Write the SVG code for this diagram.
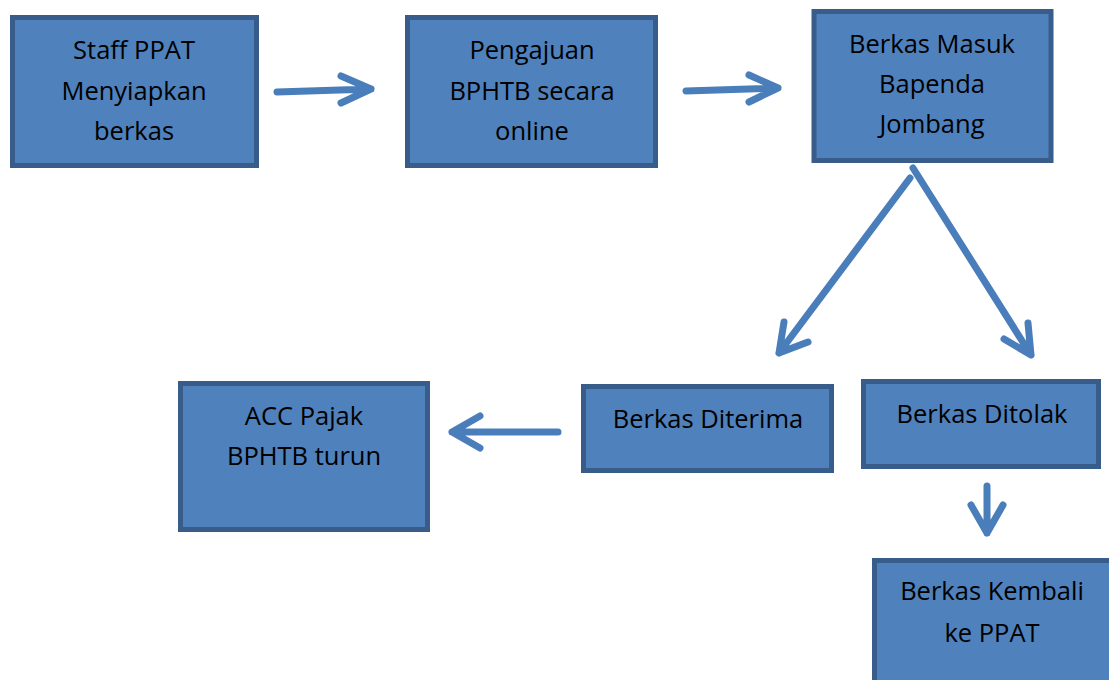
<svg xmlns="http://www.w3.org/2000/svg" width="1109" height="680" viewBox="0 0 1109 680">
<style>
.box{fill:#4f81bd;stroke:#385d8a;stroke-width:5}
.t{font-family:"Open Sans","Liberation Sans",sans-serif;font-size:25.5px;fill:#000;text-anchor:middle}
.c{fill:none;stroke:#4a7ebb;stroke-width:7;stroke-linecap:round;stroke-linejoin:round}
</style>
<rect width="1109" height="680" fill="#fff"/>
<g id="n1"><rect class="box" x="12.5" y="17.5" width="244" height="148"/>
<text class="t" x="134" y="59">Staff PPAT</text><text class="t" x="134" y="100">Menyiapkan</text><text class="t" x="134" y="140">berkas</text></g>
<g id="n2"><rect class="box" x="407.5" y="17.5" width="248" height="148"/>
<text class="t" x="532" y="59">Pengajuan</text><text class="t" x="532" y="100">BPHTB secara</text><text class="t" x="532" y="140">online</text></g>
<g id="n3"><rect class="box" x="814" y="11.5" width="237" height="149"/>
<text class="t" x="932" y="53">Berkas Masuk</text><text class="t" x="932" y="93">Bapenda</text><text class="t" x="932" y="133">Jombang</text></g>
<g id="n4"><rect class="box" x="180.5" y="383.5" width="247" height="146"/>
<text class="t" x="304" y="425">ACC Pajak</text><text class="t" x="304" y="465">BPHTB turun</text></g>
<g id="n5"><rect class="box" x="583.5" y="386.5" width="248" height="84"/>
<text class="t" x="708" y="428">Berkas Diterima</text></g>
<g id="n6"><rect class="box" x="863.5" y="381.5" width="235" height="85"/>
<text class="t" x="982" y="423">Berkas Ditolak</text></g>
<g id="n7"><rect class="box" x="874.5" y="560.5" width="240" height="130"/>
<text class="t" x="992" y="600">Berkas Kembali</text><text class="t" x="992" y="642">ke PPAT</text></g>
<g id="connectors">
<path class="c" d="M277 92 L371 89 M341 76 L371 89 L341 103"/>
<path class="c" d="M686 91 L778 88 M749 75 L778 88 L749 102"/>
<path class="c" d="M910 178 L779 353 M784 322 L779 353 L808 342"/>
<path class="c" d="M913 168 L1031 355 M1028 323 L1031 355 L1004 339"/>
<path class="c" d="M558 432 L452 432 M480 416 L452 432 L480 448"/>
<path class="c" d="M987 486 L987 533 M971 505 L987 533 L1003 505"/>
</g>
</svg>
